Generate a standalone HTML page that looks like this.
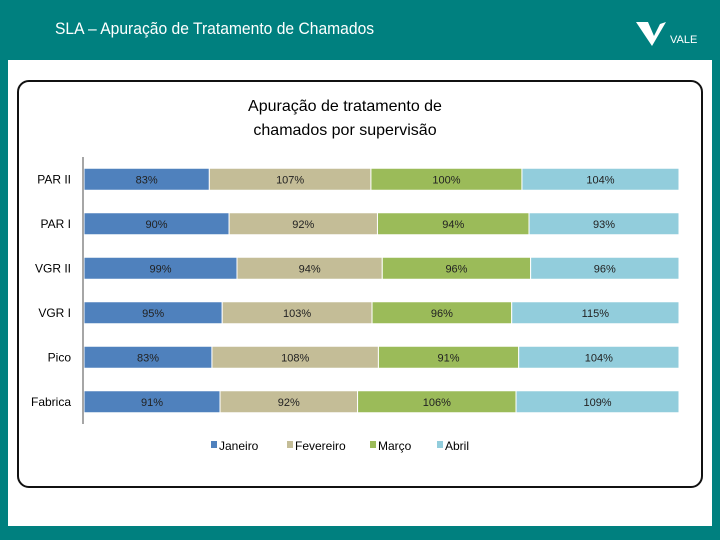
<!DOCTYPE html>
<html><head><meta charset="utf-8"><style>
body{margin:0;width:720px;height:540px;background:#00807F;position:relative;overflow:hidden;font-family:"Liberation Sans",sans-serif}
#hdr{position:absolute;left:55px;top:19px;color:#fff;font-size:17px;transform:scaleX(.92);transform-origin:left}
#slide{position:absolute;left:8px;top:60px;width:704px;height:466px;background:#fff}
#box{position:absolute;left:17px;top:80px;width:686px;height:408px;border:2px solid #111;border-radius:12px;box-sizing:border-box}
</style></head><body>
<div id="hdr">SLA – Apuração de Tratamento de Chamados</div>
<svg style="position:absolute;left:632px;top:18px" width="80" height="30">
<path d="M4 4 L16 4 L22 18 L28 6 L34 4 L20 28 Z" fill="#fff"/>
<text x="38" y="25" fill="#fff" font-size="11" font-family="Liberation Sans">VALE</text></svg>
<div id="slide"></div>
<div id="box"></div>
<svg id="chart" style="position:absolute;left:0;top:0" width="720" height="540"></svg>
<script>
const categories=["PAR II","PAR I","VGR II","VGR I","Pico","Fabrica"];
const janeiro=[83,90,99,95,83,91];
const fevereiro=[107,92,94,103,108,92];
const marco=[100,94,96,96,91,106];
const abril=[104,93,96,115,104,109];
const seriesNames=["Janeiro","Fevereiro","Março","Abril"];
const colors=["#4F81BD","#C4BD97","#9BBB59","#92CDDC"];
const NS="http://www.w3.org/2000/svg",svg=document.getElementById('chart');
function mk(t,a,txt){const e=document.createElementNS(NS,t);for(const k in a)e.setAttribute(k,a[k]);if(txt!=null)e.textContent=txt;svg.appendChild(e);return e;}
const x0=84,W=595,yTop=157,rowH=44.5,barH=22;
const xs=(frac)=>x0+frac*W;
const ys=(i)=>yTop+rowH*i+rowH/2;
let t=mk('text',{x:345,y:111,'text-anchor':'middle','font-size':16,fill:'#000'},'Apuração de tratamento de');

t=mk('text',{x:345,y:135,'text-anchor':'middle','font-size':16,fill:'#000'},'chamados por supervisão');

const series=[janeiro,fevereiro,marco,abril];
categories.forEach((c,i)=>{
  const tot=series.reduce((s,a)=>s+a[i],0);let acc=0;const cy=ys(i);
  const l=mk('text',{x:71,y:cy+4,'text-anchor':'end','font-size':12,fill:'#000'},c);
  
  
  series.forEach((s,j)=>{
    const a=xs(acc/tot),b=xs((acc+s[i])/tot);acc+=s[i];
    const r=mk('rect',{x:a,y:cy-barH/2,width:b-a,height:barH,fill:colors[j],stroke:'#fff','stroke-width':1});
    
    
    const v=mk('text',{x:(a+b)/2,y:cy+4,'text-anchor':'middle','font-size':11,fill:'#222'},s[i]+'%');
    
    
  });
});
const ax=mk('line',{x1:83,y1:yTop,x2:83,y2:yTop+rowH*6,stroke:'#888','stroke-width':1.5});


const lx=[211,287,370,437];
seriesNames.forEach((n,j)=>{
  const r=mk('rect',{x:lx[j],y:441,width:6,height:7,fill:colors[j]});
  
  
  const tx=mk('text',{x:lx[j]+8,y:450,'font-size':12,fill:'#000'},n);
  
  
});
</script>
</body></html>
